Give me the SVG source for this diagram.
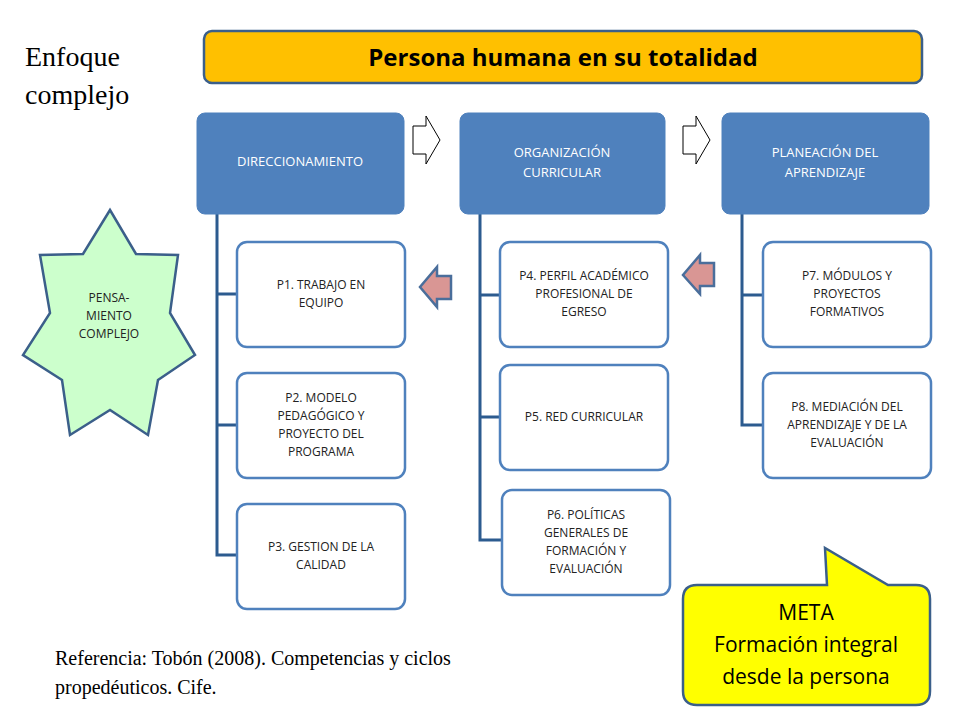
<svg xmlns="http://www.w3.org/2000/svg" width="960" height="720" viewBox="0 0 960 720">
<style>
.hd{fill:#4f81bd;stroke:#4f81bd}
.ht{font-family:"Open Sans","Liberation Sans",sans-serif;font-size:13px;fill:#fff;text-anchor:middle}
.bx{fill:#fff;stroke:#4f81bd;stroke-width:2.5}
.bt{font-family:"Open Sans","Liberation Sans",sans-serif;font-size:12px;fill:#222;text-anchor:middle}
.ln{stroke:#2c5b8f;stroke-width:3;fill:none}
.ser{font-family:"Liberation Serif",serif;fill:#000}
.ar{fill:#fff;stroke:#000;stroke-width:1}
.pa{fill:#d99694;stroke:#4a6e9b;stroke-width:2.5}
</style>
<rect width="960" height="720" fill="#fff"/>
<text class="ser" x="25" y="66" font-size="28">Enfoque</text>
<text class="ser" x="25" y="104" font-size="28">complejo</text>
<g id="title"><rect x="204" y="31" width="718" height="52" rx="8" fill="#ffc000" stroke="#3b5f8a" stroke-width="2.5"/>
<text x="563" y="66" font-family="Open Sans,Liberation Sans,sans-serif" font-size="24" font-weight="bold" text-anchor="middle" fill="#000">Persona humana en su totalidad</text></g>
<g id="connectors">
<path class="ln" d="M217 214V555H238M217 294H238M217 425H238"/>
<path class="ln" d="M480 214V540H502M480 295H502M480 417H502"/>
<path class="ln" d="M742 214V425H764M742 295H764"/>
<path class="ar" d="M413 126H426V116L440 140L426 164V154H413Z"/>
<path class="ar" d="M683 126H696V116L710 140L696 164V154H683Z"/>
<path class="pa" d="M451 276V299H437V307L420 287L437 267V276Z"/>
<path class="pa" d="M714 263V286H700V294L683 275L700 255V263Z"/>
</g>
<g id="h1"><rect class="hd" x="197" y="113" width="207" height="101" rx="8"/><text class="ht" x="300" y="166">DIRECCIONAMIENTO</text></g>
<g id="h2"><rect class="hd" x="460" y="113" width="205" height="101" rx="8"/><text class="ht" x="562" y="157">ORGANIZACIÓN</text><text class="ht" x="562" y="177">CURRICULAR</text></g>
<g id="h3"><rect class="hd" x="722" y="113" width="207" height="101" rx="8"/><text class="ht" x="825" y="157">PLANEACIÓN DEL</text><text class="ht" x="825" y="177">APRENDIZAJE</text></g>
<g id="p1"><rect class="bx" x="237" y="242" width="168" height="105" rx="10"/><text class="bt" x="321" y="289">P1. TRABAJO EN</text><text class="bt" x="321" y="307">EQUIPO</text></g>
<g id="p2"><rect class="bx" x="237" y="373" width="168" height="105" rx="10"/><text class="bt" x="321" y="402">P2. MODELO</text><text class="bt" x="321" y="420">PEDAGÓGICO Y</text><text class="bt" x="321" y="438">PROYECTO DEL</text><text class="bt" x="321" y="456">PROGRAMA</text></g>
<g id="p3"><rect class="bx" x="237" y="504" width="168" height="105" rx="10"/><text class="bt" x="321" y="551">P3. GESTION DE LA</text><text class="bt" x="321" y="569">CALIDAD</text></g>
<g id="p4"><rect class="bx" x="500" y="242" width="168" height="105" rx="10"/><text class="bt" x="584" y="280">P4. PERFIL ACADÉMICO</text><text class="bt" x="584" y="298">PROFESIONAL DE</text><text class="bt" x="584" y="316">EGRESO</text></g>
<g id="p5"><rect class="bx" x="500" y="365" width="168" height="105" rx="10"/><text class="bt" x="584" y="421">P5. RED CURRICULAR</text></g>
<g id="p6"><rect class="bx" x="502" y="490" width="168" height="105" rx="10"/><text class="bt" x="586" y="519">P6. POLÍTICAS</text><text class="bt" x="586" y="537">GENERALES DE</text><text class="bt" x="586" y="555">FORMACIÓN Y</text><text class="bt" x="586" y="573">EVALUACIÓN</text></g>
<g id="p7"><rect class="bx" x="763" y="242" width="168" height="105" rx="10"/><text class="bt" x="847" y="280">P7. MÓDULOS Y</text><text class="bt" x="847" y="298">PROYECTOS</text><text class="bt" x="847" y="316">FORMATIVOS</text></g>
<g id="p8"><rect class="bx" x="763" y="373" width="168" height="105" rx="10"/><text class="bt" x="847" y="411">P8. MEDIACIÓN DEL</text><text class="bt" x="847" y="429">APRENDIZAJE Y DE LA</text><text class="bt" x="847" y="447">EVALUACIÓN</text></g>
<g id="star"><path d="M110 210L136 254L178 255L170 313L195 355L158 380L148 435L110 410L70 435L62 380L23 355L50 313L40 255L83 254Z" fill="#ccffcc" stroke="#3b5f8a" stroke-width="2.5"/>
<text class="bt" x="109" y="302">PENSA-</text><text class="bt" x="109" y="320">MIENTO</text><text class="bt" x="109" y="338">COMPLEJO</text></g>
<g id="meta"><path d="M697 585H827L825 548L888 585H916Q930 585 930 599V691Q930 705 916 705H697Q683 705 683 691V599Q683 585 697 585Z" fill="#ffff00" stroke="#3b5f8a" stroke-width="2.5"/>
<g font-family="Open Sans,Liberation Sans,sans-serif" font-size="21" text-anchor="middle" fill="#000"><text x="806" y="620">META</text><text x="806" y="652">Formación integral</text><text x="806" y="684">desde la persona</text></g></g>
<text class="ser" x="55" y="665" font-size="20">Referencia: Tobón (2008). Competencias y ciclos</text>
<text class="ser" x="55" y="694" font-size="20">propedéuticos. Cife.</text>
</svg>
